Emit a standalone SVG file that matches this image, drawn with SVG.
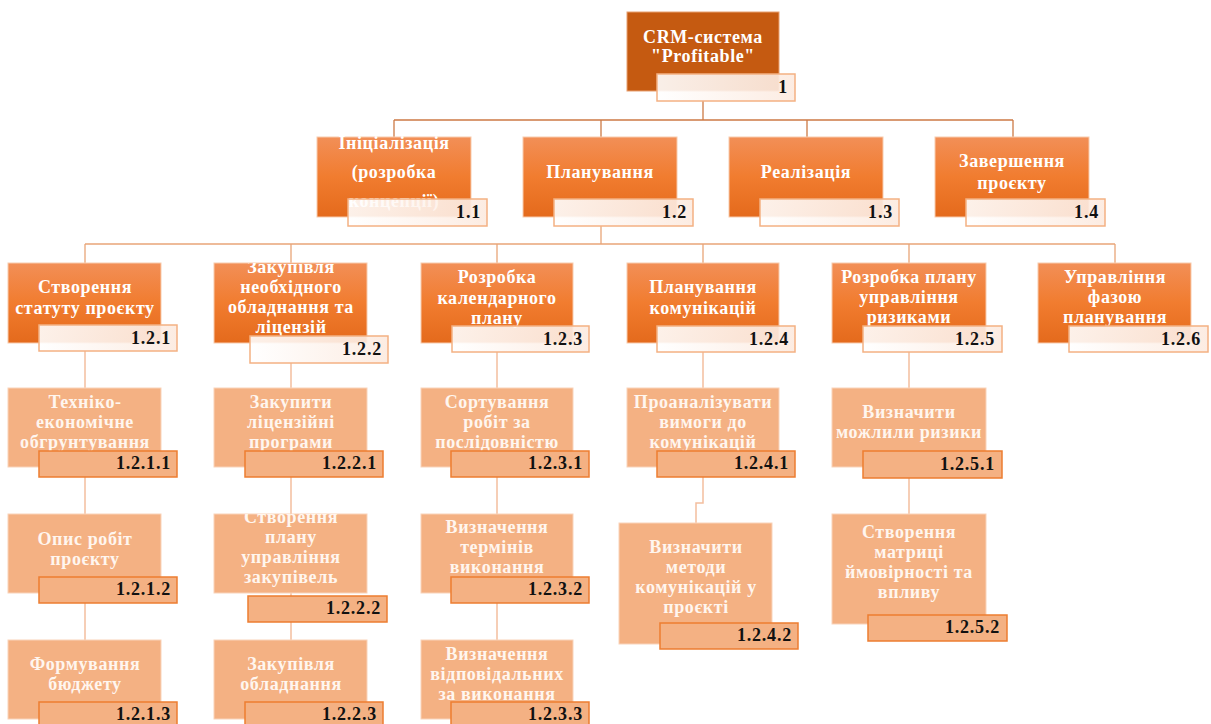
<svg xmlns="http://www.w3.org/2000/svg" width="1211" height="724" viewBox="0 0 1211 724">
  <defs>
    <linearGradient id="gOrange" x1="0" y1="0" x2="0" y2="1">
      <stop offset="0" stop-color="#F28F57"/>
      <stop offset="0.5" stop-color="#F17C2F"/>
      <stop offset="1" stop-color="#E46A1C"/>
    </linearGradient>
    <linearGradient id="gTag" x1="0" y1="0" x2="1" y2="0">
      <stop offset="0" stop-color="#FFFFFF"/>
      <stop offset="1" stop-color="#FCEADF"/>
    </linearGradient>
    <clipPath id="clip122"><rect x="214" y="263" width="153" height="80"/></clipPath>
    <clipPath id="clip1222"><rect x="214" y="514" width="153" height="80"/></clipPath>
  </defs>
  <style>
    .root { fill: #C55A11; stroke: #E8A070; stroke-width: 1; }
    .mid { fill: url(#gOrange); stroke: #F8CBAD; stroke-width: 1; }
    .leaf { fill: #F4B183; stroke: #F9D3BA; stroke-width: 1; }
    .tag { fill: url(#gTag); fill-opacity: 0.9; stroke: #F4B183; stroke-width: 1.5; }
    .tagLeaf { fill: #F4B183; stroke: #ED7D31; stroke-width: 1.5; }
    .lbl { font-family: "Liberation Serif", "Times New Roman", serif; font-weight: bold; font-size: 18px; fill: #FFFFFF; text-anchor: middle; letter-spacing: 0.6px; }
    .lblLeaf { font-family: "Liberation Serif", "Times New Roman", serif; font-weight: bold; font-size: 18px; fill: #FFF6EF; text-anchor: middle; letter-spacing: 0.6px; }
    .num { font-family: "Liberation Serif", "Times New Roman", serif; font-weight: bold; font-size: 18px; fill: #111111; text-anchor: end; letter-spacing: 0.8px; }
    .c0 { fill: none; stroke: #CD7A45; stroke-width: 1.3; }
    .c1 { fill: none; stroke: #E9A578; stroke-width: 1.3; }
    .c2 { fill: none; stroke: #F4BE9E; stroke-width: 1.5; }
  </style>

  <!-- connectors -->
  <g id="connectors">
    <path class="c0" d="M703 101 V120 M394 120 H1013 M394 120 V137 M601 120 V137 M807 120 V137 M1013 120 V137"/>
    <path class="c1" d="M601 226 V244 M85 244 H1115 M85 244 V263 M291 244 V263 M497 244 V263 M703 244 V263 M909 244 V263 M1115 244 V263"/>
    <path class="c2" d="M85 351 V640 M291 363 V640 M497 352 V640 M703 352 V503 H696 V523 M909 352 V514"/>
  </g>

  <!-- level 0 -->
  <g id="n1">
    <rect class="root" x="627" y="12" width="152" height="79"/>
    <text class="lbl" x="703" y="43">CRM-система</text>
    <text class="lbl" x="703" y="62">"Profitable"</text>
    <rect class="tag" x="657" y="74" width="138" height="27"/>
    <text class="num" x="788" y="93">1</text>
  </g>

  <!-- level 1 -->
  <g id="n1-1">
    <rect class="mid" x="317" y="137" width="154" height="80"/>
    <text class="lbl" x="394" y="149">Ініціалізація</text>
    <text class="lbl" x="394" y="178">(розробка</text>
    <text class="lbl" x="394" y="207">концепції)</text>
    <rect class="tag" x="348" y="199" width="139" height="27"/>
    <text class="num" x="481" y="218">1.1</text>
  </g>
  <g id="n1-2">
    <rect class="mid" x="523" y="137" width="154" height="80"/>
    <text class="lbl" x="600" y="178">Планування</text>
    <rect class="tag" x="554" y="199" width="139" height="27"/>
    <text class="num" x="687" y="218">1.2</text>
  </g>
  <g id="n1-3">
    <rect class="mid" x="729" y="137" width="154" height="80"/>
    <text class="lbl" x="806" y="178">Реалізація</text>
    <rect class="tag" x="760" y="199" width="139" height="27"/>
    <text class="num" x="893" y="218">1.3</text>
  </g>
  <g id="n1-4">
    <rect class="mid" x="935" y="137" width="154" height="80"/>
    <text class="lbl" x="1012" y="167">Завершення</text>
    <text class="lbl" x="1012" y="189">проєкту</text>
    <rect class="tag" x="966" y="199" width="139" height="27"/>
    <text class="num" x="1099" y="218">1.4</text>
  </g>

  <!-- level 2 -->
  <g id="n1-2-1">
    <rect class="mid" x="8" y="263" width="153" height="80"/>
    <text class="lbl" x="85" y="293">Створення</text>
    <text class="lbl" x="85" y="314">статуту проєкту</text>
    <rect class="tag" x="39" y="325" width="138" height="26"/>
    <text class="num" x="171" y="344">1.2.1</text>
  </g>
  <g id="n1-2-2">
    <rect class="mid" x="214" y="263" width="153" height="80"/>
    <g clip-path="url(#clip122)">
      <text class="lbl" x="291" y="273">Закупівля</text>
      <text class="lbl" x="291" y="293">необхідного</text>
      <text class="lbl" x="291" y="313">обладнання та</text>
      <text class="lbl" x="291" y="333">ліцензій</text>
    </g>
    <rect class="tag" x="250" y="336" width="138" height="27"/>
    <text class="num" x="382" y="355">1.2.2</text>
  </g>
  <g id="n1-2-3">
    <rect class="mid" x="421" y="263" width="152" height="80"/>
    <text class="lbl" x="497" y="283">Розробка</text>
    <text class="lbl" x="497" y="304">календарного</text>
    <text class="lbl" x="497" y="324">плану</text>
    <rect class="tag" x="452" y="326" width="137" height="26"/>
    <text class="num" x="583" y="345">1.2.3</text>
  </g>
  <g id="n1-2-4">
    <rect class="mid" x="627" y="263" width="152" height="80"/>
    <text class="lbl" x="703" y="293">Планування</text>
    <text class="lbl" x="703" y="314">комунікацій</text>
    <rect class="tag" x="657" y="326" width="138" height="26"/>
    <text class="num" x="789" y="345">1.2.4</text>
  </g>
  <g id="n1-2-5">
    <rect class="mid" x="832" y="263" width="154" height="80"/>
    <text class="lbl" x="909" y="283">Розробка плану</text>
    <text class="lbl" x="909" y="303">управління</text>
    <text class="lbl" x="909" y="323">ризиками</text>
    <rect class="tag" x="863" y="326" width="139" height="26"/>
    <text class="num" x="995" y="345">1.2.5</text>
  </g>
  <g id="n1-2-6">
    <rect class="mid" x="1038" y="263" width="153" height="80"/>
    <text class="lbl" x="1115" y="283">Управління</text>
    <text class="lbl" x="1115" y="303">фазою</text>
    <text class="lbl" x="1115" y="323">планування</text>
    <rect class="tag" x="1069" y="326" width="139" height="26"/>
    <text class="num" x="1201" y="345">1.2.6</text>
  </g>

  <!-- level 3: column 1.2.1 -->
  <g id="n1-2-1-1">
    <rect class="leaf" x="8" y="388" width="153" height="79"/>
    <text class="lblLeaf" x="85" y="408">Техніко-</text>
    <text class="lblLeaf" x="85" y="428">економічне</text>
    <text class="lblLeaf" x="85" y="448">обгрунтування</text>
    <rect class="tagLeaf" x="39" y="451" width="138" height="26"/>
    <text class="num" x="171" y="469">1.2.1.1</text>
  </g>
  <g id="n1-2-1-2">
    <rect class="leaf" x="8" y="514" width="153" height="79"/>
    <text class="lblLeaf" x="85" y="545">Опис робіт</text>
    <text class="lblLeaf" x="85" y="565">проєкту</text>
    <rect class="tagLeaf" x="39" y="577" width="138" height="26"/>
    <text class="num" x="171" y="595">1.2.1.2</text>
  </g>
  <g id="n1-2-1-3">
    <rect class="leaf" x="8" y="640" width="153" height="79"/>
    <text class="lblLeaf" x="85" y="670">Формування</text>
    <text class="lblLeaf" x="85" y="690">бюджету</text>
    <rect class="tagLeaf" x="39" y="702" width="138" height="26"/>
    <text class="num" x="171" y="720">1.2.1.3</text>
  </g>

  <!-- level 3: column 1.2.2 -->
  <g id="n1-2-2-1">
    <rect class="leaf" x="214" y="388" width="153" height="79"/>
    <text class="lblLeaf" x="291" y="408">Закупити</text>
    <text class="lblLeaf" x="291" y="428">ліцензійні</text>
    <text class="lblLeaf" x="291" y="448">програми</text>
    <rect class="tagLeaf" x="245" y="451" width="138" height="26"/>
    <text class="num" x="377" y="469">1.2.2.1</text>
  </g>
  <g id="n1-2-2-2">
    <rect class="leaf" x="214" y="514" width="153" height="79"/>
    <g clip-path="url(#clip1222)">
      <text class="lblLeaf" x="291" y="523">Створення</text>
      <text class="lblLeaf" x="291" y="543">плану</text>
      <text class="lblLeaf" x="291" y="563">управління</text>
      <text class="lblLeaf" x="291" y="583">закупівель</text>
    </g>
    <rect class="tagLeaf" x="248" y="596" width="139" height="26"/>
    <text class="num" x="381" y="614">1.2.2.2</text>
  </g>
  <g id="n1-2-2-3">
    <rect class="leaf" x="214" y="640" width="153" height="79"/>
    <text class="lblLeaf" x="291" y="670">Закупівля</text>
    <text class="lblLeaf" x="291" y="690">обладнання</text>
    <rect class="tagLeaf" x="245" y="702" width="138" height="26"/>
    <text class="num" x="377" y="720">1.2.2.3</text>
  </g>

  <!-- level 3: column 1.2.3 -->
  <g id="n1-2-3-1">
    <rect class="leaf" x="421" y="388" width="152" height="79"/>
    <text class="lblLeaf" x="497" y="408">Сортування</text>
    <text class="lblLeaf" x="497" y="428">робіт за</text>
    <text class="lblLeaf" x="497" y="448">послідовністю</text>
    <rect class="tagLeaf" x="451" y="451" width="138" height="26"/>
    <text class="num" x="583" y="469">1.2.3.1</text>
  </g>
  <g id="n1-2-3-2">
    <rect class="leaf" x="421" y="514" width="152" height="79"/>
    <text class="lblLeaf" x="497" y="533">Визначення</text>
    <text class="lblLeaf" x="497" y="553">термінів</text>
    <text class="lblLeaf" x="497" y="573">виконання</text>
    <rect class="tagLeaf" x="451" y="577" width="138" height="26"/>
    <text class="num" x="583" y="595">1.2.3.2</text>
  </g>
  <g id="n1-2-3-3">
    <rect class="leaf" x="421" y="640" width="152" height="79"/>
    <text class="lblLeaf" x="497" y="660">Визначення</text>
    <text class="lblLeaf" x="497" y="680">відповідальних</text>
    <text class="lblLeaf" x="497" y="700">за виконання</text>
    <rect class="tagLeaf" x="451" y="702" width="138" height="26"/>
    <text class="num" x="583" y="720">1.2.3.3</text>
  </g>

  <!-- level 3: column 1.2.4 -->
  <g id="n1-2-4-1">
    <rect class="leaf" x="627" y="388" width="152" height="79"/>
    <text class="lblLeaf" x="703" y="408">Проаналізувати</text>
    <text class="lblLeaf" x="703" y="428">вимоги до</text>
    <text class="lblLeaf" x="703" y="448">комунікацій</text>
    <rect class="tagLeaf" x="657" y="451" width="138" height="26"/>
    <text class="num" x="789" y="469">1.2.4.1</text>
  </g>
  <g id="n1-2-4-2">
    <rect class="leaf" x="619" y="523" width="153" height="121"/>
    <text class="lblLeaf" x="696" y="553">Визначити</text>
    <text class="lblLeaf" x="696" y="573">методи</text>
    <text class="lblLeaf" x="696" y="593">комунікацій  у</text>
    <text class="lblLeaf" x="696" y="613">проєкті</text>
    <rect class="tagLeaf" x="660" y="623" width="138" height="26"/>
    <text class="num" x="792" y="641">1.2.4.2</text>
  </g>

  <!-- level 3: column 1.2.5 -->
  <g id="n1-2-5-1">
    <rect class="leaf" x="832" y="388" width="154" height="79"/>
    <text class="lblLeaf" x="909" y="418">Визначити</text>
    <text class="lblLeaf" x="909" y="438">можлили ризики</text>
    <rect class="tagLeaf" x="863" y="451" width="139" height="27"/>
    <text class="num" x="995" y="470">1.2.5.1</text>
  </g>
  <g id="n1-2-5-2">
    <rect class="leaf" x="832" y="514" width="154" height="110"/>
    <text class="lblLeaf" x="909" y="538">Створення</text>
    <text class="lblLeaf" x="909" y="558">матриці</text>
    <text class="lblLeaf" x="909" y="578">ймовірності та</text>
    <text class="lblLeaf" x="909" y="598">впливу</text>
    <rect class="tagLeaf" x="868" y="615" width="139" height="26"/>
    <text class="num" x="1000" y="633">1.2.5.2</text>
  </g>
</svg>
